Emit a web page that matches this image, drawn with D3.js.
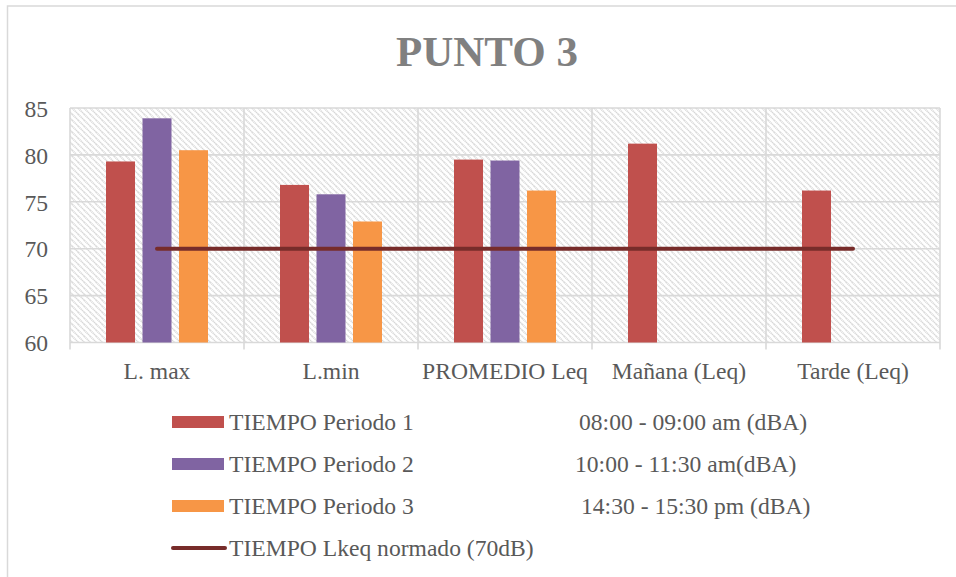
<!DOCTYPE html>
<html>
<head>
<meta charset="utf-8">
<script src="https://cdn.jsdelivr.net/npm/d3@7"></script>
<style>
  html, body { margin: 0; padding: 0; background: #fff; }
  svg { display: block; }
  text { font-family: "Liberation Serif", "Times New Roman", serif; fill: #595959; }
</style>
</head>
<body>
<div id="chart"></div>
<script>
// Sound level readings per measurement category (dBA)
const categories = ["L. max", "L.min", "PROMEDIO Leq", "Mañana (Leq)", "Tarde (Leq)"];
const periodo1 = [79.3, 76.8, 79.5, 81.2, 76.2];
const periodo2 = [83.9, 75.8, 79.4, null, null];
const periodo3 = [80.5, 72.9, 76.2, null, null];
const normado = [70, 70, 70, 70, 70];
const yTicks = [60, 65, 70, 75, 80, 85];

const seriesNames = ["TIEMPO Periodo 1", "TIEMPO Periodo 2", "TIEMPO Periodo 3"];
const seriesTimes = ["08:00 - 09:00 am (dBA)", "10:00 - 11:30 am(dBA)", "14:30 - 15:30 pm (dBA)"];
const lineName = "TIEMPO Lkeq normado (70dB)";
const title = "PUNTO 3";

const W = 956, H = 577;
const colors = ["#c0504d", "#8064a2", "#f79646"];
const lineColor = "#772c2a";
const gridColor = "#d9d9d9";
const serif = "'Liberation Serif', 'Times New Roman', serif";
const fs = "23.6px";

const svg = d3.select("#chart").append("svg").attr("width", W).attr("height", H);

// Diagonal hatch fill for the plot area
const defs = svg.append("defs");
const pat = defs.append("pattern")
  .attr("id", "hatch").attr("patternUnits", "userSpaceOnUse")
  .attr("width", 6).attr("height", 6);
pat.append("rect").attr("width", 6).attr("height", 6).attr("fill", "#fff");
pat.append("path")
  .attr("d", "M-1,-1 L7,7 M-4,2 L1,7 M2,-4 L7,1")
  .attr("stroke", "#d6d6d6").attr("stroke-width", 1.7)
  .attr("stroke-dasharray", "1.2,0.6");

// Chart border
svg.append("rect")
  .attr("x", 7.5).attr("y", 6).attr("width", W + 20).attr("height", H + 20)
  .attr("fill", "none").attr("stroke", gridColor).attr("stroke-width", 1.5);

// Title
svg.append("text")
  .attr("x", 487).attr("y", 66)
  .attr("text-anchor", "middle")
  .style("font-size", "43px").style("font-weight", "bold")
  .style("fill", "#808080")
  .text(title);

const plot = { left: 70, right: 940, top: 108, bottom: 342.5 };

const x = d3.scaleBand().domain(categories).range([plot.left, plot.right]).paddingInner(0).paddingOuter(0);
const y = d3.scaleLinear().domain([60, 85]).range([plot.bottom, plot.top]);
const groupW = 102;
const xs = d3.scaleBand().domain([0, 1, 2])
  .range([x.bandwidth() / 2 - groupW / 2, x.bandwidth() / 2 + groupW / 2])
  .paddingInner(0.205).paddingOuter(0);

// Plot background
svg.append("rect")
  .attr("x", plot.left).attr("y", plot.top)
  .attr("width", plot.right - plot.left).attr("height", plot.bottom - plot.top)
  .attr("fill", "url(#hatch)");

// Horizontal gridlines
svg.append("g").selectAll("line").data(yTicks).join("line")
  .attr("x1", plot.left).attr("x2", plot.right)
  .attr("y1", d => y(d)).attr("y2", d => y(d))
  .attr("stroke", gridColor).attr("stroke-width", 1.6);

// Vertical category dividers, extending below as tick marks
const bounds = categories.map(c => x(c)).concat([plot.right]);
svg.append("g").selectAll("line").data(bounds).join("line")
  .attr("x1", d => d).attr("x2", d => d)
  .attr("y1", plot.top).attr("y2", plot.bottom + 7)
  .attr("stroke", gridColor).attr("stroke-width", 1.6);

// Y axis labels
const yAxis = d3.axisLeft(y).tickValues(yTicks).tickSize(0).tickPadding(0);
const yg = svg.append("g").attr("transform", `translate(48,0)`).call(yAxis)
  .attr("font-family", serif).attr("font-size", fs);
yg.select(".domain").remove();
yg.selectAll("text")
  .style("font-size", fs).style("font-family", serif)
  .attr("fill", "#595959").attr("dy", "0.35em");

// X axis labels
const xAxis = d3.axisBottom(x).tickSize(0).tickPadding(0);
const xg = svg.append("g").attr("transform", `translate(0,${plot.bottom})`).call(xAxis)
  .attr("font-family", serif).attr("font-size", fs);
xg.select(".domain").remove();
xg.selectAll("text")
  .style("font-size", fs).style("font-family", serif)
  .attr("fill", "#595959").attr("y", 36.5).attr("dy", 0);

// Bars
const allSeries = [periodo1, periodo2, periodo3];
allSeries.forEach((vals, si) => {
  svg.append("g").selectAll("rect")
    .data(vals.map((v, i) => ({ c: categories[i], v })).filter(d => d.v != null))
    .join("rect")
    .attr("x", d => x(d.c) + xs(si))
    .attr("width", xs.bandwidth())
    .attr("y", d => y(d.v))
    .attr("height", d => y(60) - y(d.v))
    .attr("fill", colors[si]);
});

// Reference line (normative limit)
const line = d3.line().x((d, i) => x(categories[i]) + x.bandwidth() / 2).y(d => y(d));
svg.append("path")
  .datum(normado)
  .attr("d", line)
  .attr("fill", "none").attr("stroke", lineColor)
  .attr("stroke-width", 4).attr("stroke-linecap", "round");

// Legend
const legX = 172, legW = 52, rowY = [422, 464, 506, 548];
const timeX = [579, 575, 581];
seriesNames.forEach((name, i) => {
  svg.append("rect")
    .attr("x", legX).attr("y", rowY[i] - 6).attr("width", legW).attr("height", 12)
    .attr("fill", colors[i]);
  svg.append("text").attr("x", legX + 57).attr("y", rowY[i] + 8)
    .style("font-size", fs).text(name);
  svg.append("text").attr("x", timeX[i]).attr("y", rowY[i] + 8)
    .style("font-size", fs).text(seriesTimes[i]);
});
svg.append("line")
  .attr("x1", legX + 1).attr("x2", legX + legW + 1)
  .attr("y1", rowY[3]).attr("y2", rowY[3])
  .attr("stroke", lineColor).attr("stroke-width", 4).attr("stroke-linecap", "round");
svg.append("text").attr("x", legX + 57).attr("y", rowY[3] + 8)
  .style("font-size", fs).text(lineName);
</script>
</body>
</html>
